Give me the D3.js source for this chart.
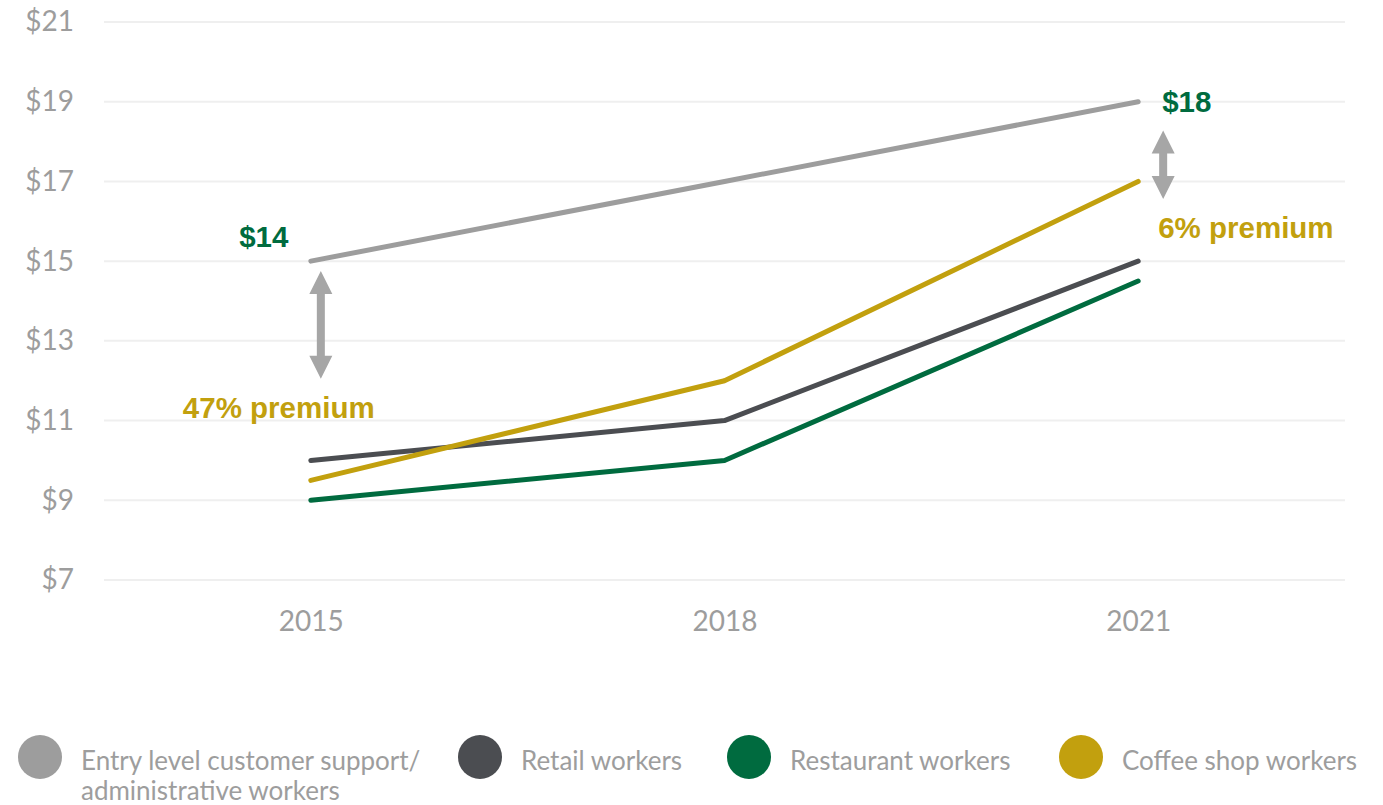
<!DOCTYPE html>
<html>
<head>
<meta charset="utf-8">
<script src="https://cdn.jsdelivr.net/npm/d3@7"></script>
<style>
  html, body { margin: 0; padding: 0; background: #fff; }
  svg { display: block; }
</style>
</head>
<body>
<svg id="chart" width="1383" height="805"></svg>
<script>
// Hourly wages by worker group
const years = [2015, 2018, 2021];
const yTicks = [7, 9, 11, 13, 15, 17, 19, 21];

const seriesNames = [
  "Entry level customer support/\nadministrative workers",
  "Retail workers",
  "Restaurant workers",
  "Coffee shop workers"
];
const entryLevel = [15, 17, 19];
const retail = [10, 11, 15];
const restaurant = [9, 10, 14.5];
const coffeeShop = [9.5, 12, 17];
const seriesColors = ["#9d9d9d", "#4b4d51", "#006b3f", "#c2a00e"];

// Callouts: wage labels and premium arrows
const wageLabels = [
  { year: 2015, text: "$14" },
  { year: 2021, text: "$18" }
];
const premiumLabels = [
  { year: 2015, text: "47% premium" },
  { year: 2021, text: "6% premium" }
];
const premiumArrows = [
  { year: 2015, from: 14.75, to: 12.05 },
  { year: 2021, from: 18.28, to: 16.56 }
];

const series = [entryLevel, retail, restaurant, coffeeShop].map((vals, i) => ({
  name: seriesNames[i],
  color: seriesColors[i],
  values: vals.map((v, j) => ({ year: years[j], value: v }))
}));

const svg = d3.select("#chart");
const plotLeft = 104, plotRight = 1345, plotTop = 22, plotBottom = 580;

const x = d3.scalePoint().domain(years).range([plotLeft, plotRight]).padding(0.5);
const y = d3.scaleLinear().domain([7, 21]).range([plotBottom, plotTop]);

const tickFont = "Lato, 'Open Sans', sans-serif";
const boldFont = "'Liberation Sans', Arial, sans-serif";

// Horizontal gridlines
svg.append("g")
  .selectAll("line")
  .data(yTicks)
  .join("line")
  .attr("x1", plotLeft).attr("x2", plotRight)
  .attr("y1", d => y(d)).attr("y2", d => y(d))
  .attr("stroke", "#efefef")
  .attr("stroke-width", 2);

// Y axis labels
const yAxis = svg.append("g")
  .attr("transform", `translate(74,0)`)
  .call(d3.axisLeft(y).tickValues(yTicks).tickFormat(d => "$" + d).tickSize(0).tickPadding(0));
yAxis.select(".domain").remove();
yAxis.selectAll("text")
  .attr("font-family", tickFont)
  .attr("font-size", 28)
  .attr("fill", "#9d9d9d");

// X axis labels
const xAxis = svg.append("g")
  .attr("transform", `translate(0,${plotBottom})`)
  .call(d3.axisBottom(x).tickFormat(d => String(d)).tickSize(0).tickPadding(0));
xAxis.select(".domain").remove();
xAxis.selectAll("text")
  .attr("font-family", tickFont)
  .attr("font-size", 28)
  .attr("fill", "#9d9d9d")
  .attr("dy", "51px");

// Series lines
const line = d3.line()
  .x(d => x(d.year))
  .y(d => y(d.value));

svg.append("g")
  .selectAll("path")
  .data(series)
  .join("path")
  .attr("d", d => line(d.values))
  .attr("fill", "none")
  .attr("stroke", d => d.color)
  .attr("stroke-width", 5)
  .attr("stroke-linecap", "round")
  .attr("stroke-linejoin", "round");

// Double-headed premium arrows
const arrowOffset = { 2015: 10, 2021: 25 };
const headLen = 23, headHalf = 11.5, shaftHalf = 4;
svg.append("g")
  .selectAll("path")
  .data(premiumArrows)
  .join("path")
  .attr("fill", "#a6a6a6")
  .attr("d", d => {
    const cx = x(d.year) + arrowOffset[d.year];
    const y1 = y(d.from), y2 = y(d.to);
    return `M${cx},${y1} L${cx + headHalf},${y1 + headLen} L${cx + shaftHalf},${y1 + headLen}
            L${cx + shaftHalf},${y2 - headLen} L${cx + headHalf},${y2 - headLen} L${cx},${y2}
            L${cx - headHalf},${y2 - headLen} L${cx - shaftHalf},${y2 - headLen}
            L${cx - shaftHalf},${y1 + headLen} L${cx - headHalf},${y1 + headLen} Z`;
  });

// Wage callouts
const wagePos = {
  2015: { dx: -47, baseline: 247, anchor: "middle" },
  2021: { dx: 24, baseline: 112, anchor: "start" }
};
svg.append("g")
  .selectAll("text")
  .data(wageLabels)
  .join("text")
  .attr("x", d => x(d.year) + wagePos[d.year].dx)
  .attr("y", d => wagePos[d.year].baseline)
  .attr("text-anchor", d => wagePos[d.year].anchor)
  .attr("font-family", boldFont)
  .attr("font-weight", "bold")
  .attr("font-size", 29.5)
  .attr("fill", "#006b3f")
  .text(d => d.text);

// Premium callouts
const premiumPos = {
  2015: { dx: -128, baseline: 418 },
  2021: { dx: 20, baseline: 238 }
};
svg.append("g")
  .selectAll("text")
  .data(premiumLabels)
  .join("text")
  .attr("x", d => x(d.year) + premiumPos[d.year].dx)
  .attr("y", d => premiumPos[d.year].baseline)
  .attr("font-family", boldFont)
  .attr("font-weight", "bold")
  .attr("font-size", 29.5)
  .attr("fill", "#c2a00e")
  .text(d => d.text);

// Legend
const legendX = [40, 480, 749, 1081];
const legend = svg.append("g")
  .selectAll("g")
  .data(series)
  .join("g")
  .attr("transform", (d, i) => `translate(${legendX[i]},757)`);

legend.append("circle")
  .attr("r", 22)
  .attr("fill", d => d.color);

legend.append("text")
  .attr("x", 41)
  .attr("y", 13)
  .attr("font-family", tickFont)
  .attr("font-size", 26)
  .attr("fill", "#9d9d9d")
  .selectAll("tspan")
  .data(d => d.name.split("\n"))
  .join("tspan")
  .attr("x", 41)
  .attr("dy", (d, i) => i === 0 ? 0 : 30)
  .text(d => d);
</script>
</body>
</html>
